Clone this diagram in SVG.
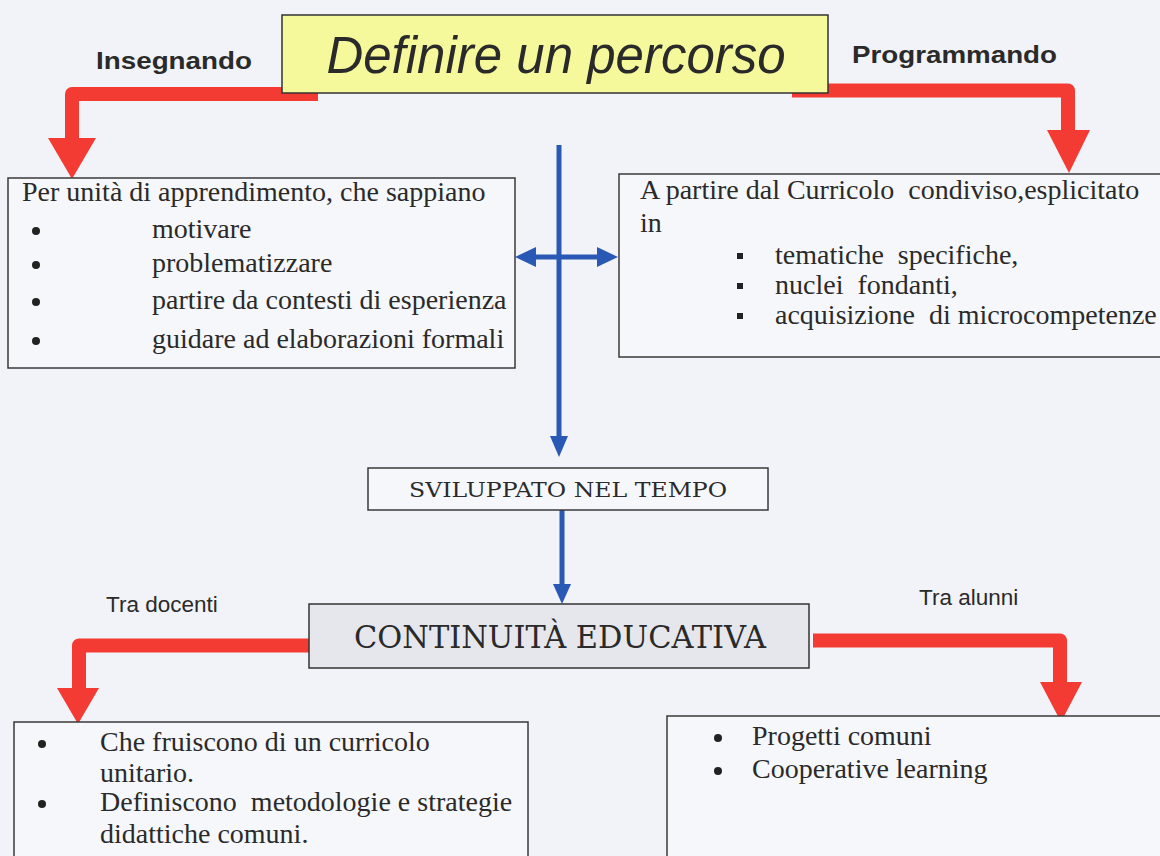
<svg xmlns="http://www.w3.org/2000/svg" width="1160" height="856" viewBox="0 0 1160 856">
<style>
.box{fill:#f6f7fa;stroke:#3a3a3a;stroke-width:1.5}
.serif{font-family:"Liberation Serif","Times New Roman",serif;fill:#2a2a2a;font-size:28px}
.sans{font-family:"Liberation Sans",Arial,sans-serif;fill:#2a2a2a}
.cent{font-family:"DejaVu Serif","Liberation Serif",serif;fill:#2a2a2a}
.red{fill:none;stroke:#f43b33;stroke-width:14;stroke-linejoin:round}
.redh{fill:#f43b33}
.blue{fill:none;stroke:#2a58b5;stroke-width:5}
.blueh{fill:#2a58b5}
.dot{fill:#222}
</style>
<rect width="1160" height="856" fill="#f2f3f8"/>
<g id="connectors">
<path class="red" d="M318 94 H72 V140"/>
<polygon class="redh" points="48,138 96,138 72,179"/>
<path class="red" d="M792 90.5 H1068 V132"/>
<polygon class="redh" points="1047,130 1090,130 1069,173"/>
<path class="red" d="M309 645.5 H79 V690"/>
<polygon class="redh" points="57,688 99,688 78,724"/>
<path class="red" d="M813 640.5 H1060 V684"/>
<polygon class="redh" points="1040,682 1082,682 1061,722"/>
<path class="blue" d="M559 145 V440"/>
<polygon class="blueh" points="550,436 568,436 559,457"/>
<path class="blue" d="M530 257 H603"/>
<polygon class="blueh" points="515,257 536,247 536,267"/>
<polygon class="blueh" points="618,257 597,247 597,267"/>
<path class="blue" d="M562 510 V588"/>
<polygon class="blueh" points="553,584 571,584 562,604"/>
</g>
<g id="title">
<rect x="282" y="15" width="546" height="78" fill="#f6f89c" stroke="#333" stroke-width="1.5"/>
<text x="556" y="73" text-anchor="middle" class="sans" font-size="51" font-style="italic">Definire un percorso</text>
</g>
<g id="lbl-insegnando"><text x="96" y="69" class="sans" font-size="24" font-weight="bold" textLength="156" lengthAdjust="spacingAndGlyphs">Insegnando</text></g>
<g id="lbl-programmando"><text x="852" y="63" class="sans" font-size="24" font-weight="bold" textLength="205" lengthAdjust="spacingAndGlyphs">Programmando</text></g>
<g id="box-left">
<rect class="box" x="8" y="178" width="507" height="190"/>
<text x="22" y="201" class="serif">Per unità di apprendimento, che sappiano</text>
<circle class="dot" cx="36" cy="231" r="4"/><text x="152" y="238" class="serif">motivare</text>
<circle class="dot" cx="36" cy="265" r="4"/><text x="152" y="272" class="serif">problematizzare</text>
<circle class="dot" cx="36" cy="302" r="4"/><text x="152" y="309" class="serif">partire da contesti di esperienza</text>
<circle class="dot" cx="36" cy="341" r="4"/><text x="152" y="348" class="serif">guidare ad elaborazioni formali</text>
</g>
<g id="box-right">
<rect class="box" x="619" y="174" width="560" height="183"/>
<text x="640" y="199" class="serif" xml:space="preserve">A partire dal Curricolo  condiviso,esplicitato</text>
<text x="640" y="232" class="serif">in</text>
<rect class="dot" x="737" y="253" width="6" height="6"/><text x="775" y="264" class="serif" xml:space="preserve">tematiche  specifiche,</text>
<rect class="dot" x="737" y="283" width="6" height="6"/><text x="775" y="294" class="serif" xml:space="preserve">nuclei  fondanti,</text>
<rect class="dot" x="737" y="313" width="6" height="6"/><text x="775" y="324" class="serif" xml:space="preserve">acquisizione  di microcompetenze</text>
</g>
<g id="box-sviluppato">
<rect class="box" x="368" y="468" width="400" height="42"/>
<text x="568" y="497" text-anchor="middle" class="cent" font-size="21" textLength="318" lengthAdjust="spacingAndGlyphs">SVILUPPATO NEL TEMPO</text>
</g>
<g id="box-continuita">
<rect x="309" y="604" width="500" height="64" fill="#e6e7ec" stroke="#333" stroke-width="1.5"/>
<text x="560" y="648" text-anchor="middle" class="cent" font-size="31" textLength="412" lengthAdjust="spacingAndGlyphs">CONTINUITÀ EDUCATIVA</text>
</g>
<g id="lbl-docenti"><text x="106" y="612" class="sans" font-size="22.5">Tra docenti</text></g>
<g id="lbl-alunni"><text x="919" y="605" class="sans" font-size="22.5">Tra alunni</text></g>
<g id="box-bl">
<rect class="box" x="14" y="722" width="514" height="150"/>
<circle class="dot" cx="42" cy="744" r="4"/><text x="100" y="751" class="serif">Che fruiscono di un curricolo</text>
<text x="100" y="782" class="serif">unitario.</text>
<circle class="dot" cx="42" cy="804" r="4"/><text x="100" y="811" class="serif" xml:space="preserve">Definiscono  metodologie e strategie</text>
<text x="100" y="843" class="serif">didattiche comuni.</text>
</g>
<g id="box-br">
<rect class="box" x="667" y="716" width="520" height="160"/>
<circle class="dot" cx="718" cy="738" r="4"/><text x="752" y="745" class="serif">Progetti comuni</text>
<circle class="dot" cx="718" cy="771" r="4"/><text x="752" y="778" class="serif">Cooperative learning</text>
</g>
</svg>
